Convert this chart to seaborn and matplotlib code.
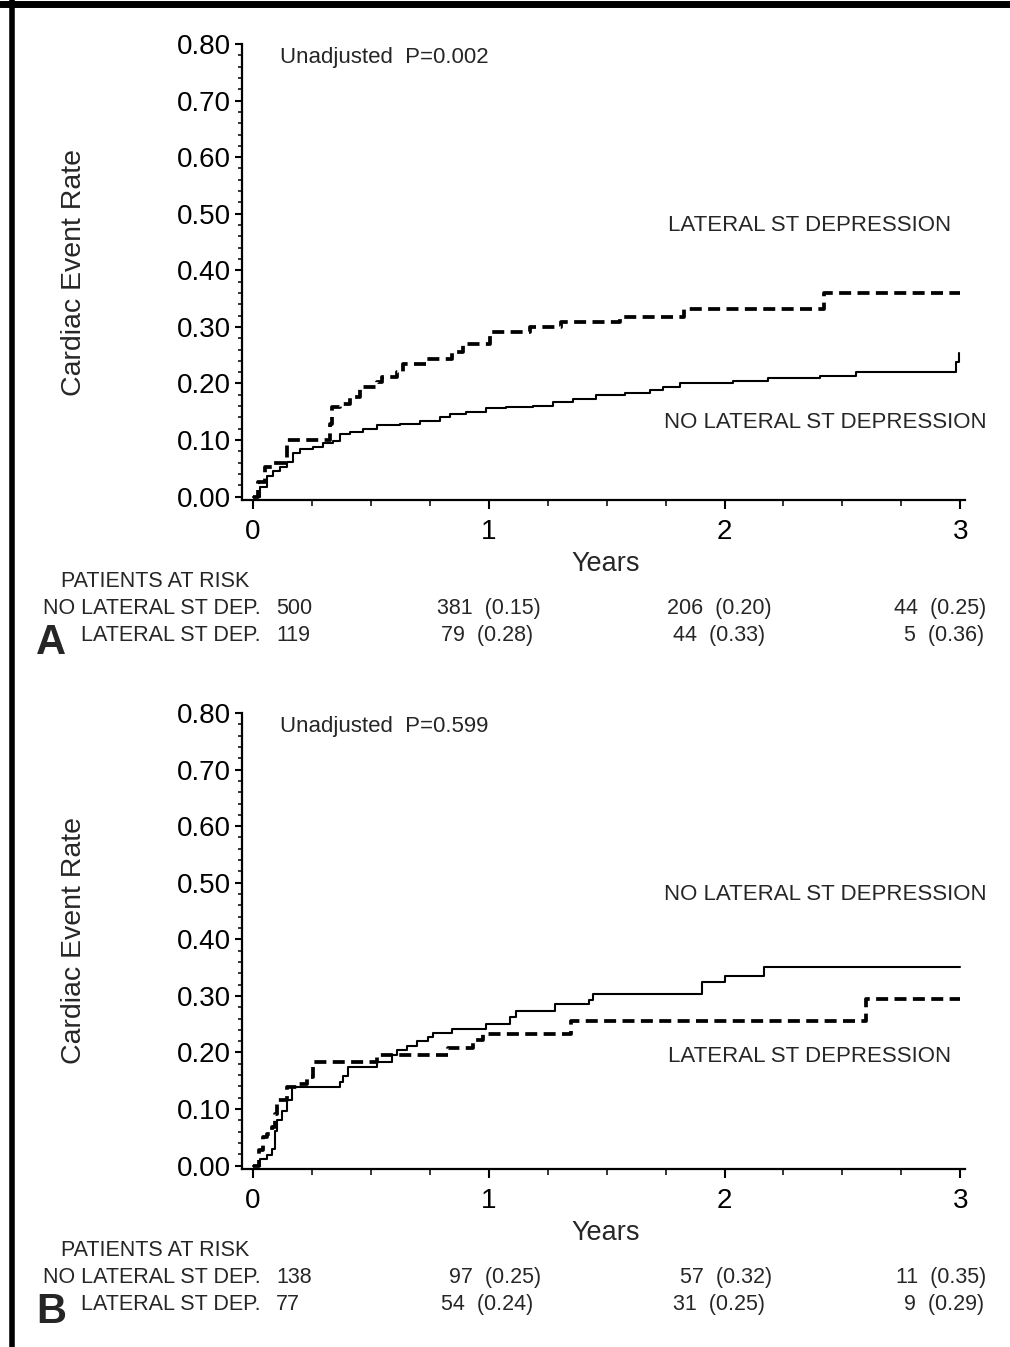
import numpy as np
import pandas as pd
import seaborn as sns
import matplotlib
matplotlib.use("Agg")
import matplotlib.pyplot as plt
from matplotlib.lines import Line2D
from matplotlib.ticker import MultipleLocator
from matplotlib.transforms import blended_transform_factory

# ---- data (Kaplan-Meier step points) ----
# Panel A
a_lat_t = [0, 0.02, 0.051, 0.086, 0.143, 0.326, 0.333, 0.369, 0.411, 0.453, 0.524, 0.545,
           0.609, 0.637, 0.736, 0.842, 0.891, 1.004, 1.174, 1.308, 1.556, 1.83, 2.42, 3.0]
a_lat_r = [0, 0.025, 0.052, 0.059, 0.100, 0.129, 0.158, 0.164, 0.176, 0.193, 0.202, 0.211,
           0.220, 0.235, 0.244, 0.255, 0.270, 0.291, 0.300, 0.308, 0.317, 0.332, 0.359, 0.359]
a_no_t = [0, 0.03, 0.058, 0.086, 0.114, 0.143, 0.171, 0.20, 0.256, 0.298, 0.34, 0.369, 0.411,
          0.467, 0.524, 0.623, 0.708, 0.792, 0.835, 0.905, 0.99, 1.075, 1.188, 1.272, 1.357,
          1.456, 1.576, 1.682, 1.739, 1.809, 2.035, 2.184, 2.403, 2.558, 2.982, 2.996]
a_no_r = [0, 0.017, 0.037, 0.046, 0.052, 0.061, 0.077, 0.084, 0.087, 0.094, 0.099, 0.111, 0.114,
          0.120, 0.127, 0.129, 0.133, 0.140, 0.146, 0.149, 0.157, 0.159, 0.161, 0.167, 0.173,
          0.180, 0.183, 0.188, 0.193, 0.200, 0.205, 0.210, 0.214, 0.220, 0.238, 0.254]

# Panel B
b_lat_t = [0, 0.023, 0.044, 0.058, 0.079, 0.093, 0.10, 0.143, 0.185, 0.227, 0.256, 0.524,
           0.828, 0.934, 0.976, 1.35, 2.60, 3.0]
b_lat_r = [0, 0.027, 0.050, 0.056, 0.068, 0.092, 0.116, 0.139, 0.145, 0.156, 0.183, 0.195,
           0.207, 0.222, 0.233, 0.255, 0.295, 0.295]
b_no_t = [0, 0.03, 0.058, 0.079, 0.093, 0.10, 0.121, 0.143, 0.164, 0.369, 0.383, 0.404, 0.524,
          0.588, 0.609, 0.651, 0.694, 0.743, 0.764, 0.842, 0.99, 1.089, 1.117, 1.279, 1.427,
          1.441, 1.905, 2.0, 2.169, 3.0]
b_no_r = [0, 0.012, 0.018, 0.030, 0.062, 0.080, 0.097, 0.116, 0.139, 0.147, 0.159, 0.174, 0.183,
          0.195, 0.205, 0.212, 0.221, 0.227, 0.234, 0.242, 0.251, 0.262, 0.273, 0.285, 0.293,
          0.303, 0.324, 0.336, 0.351, 0.351]

# patients at risk table
a_no_n0, a_lat_n0 = "500", "119"
a_no_risk = ["381  (0.15)", "206  (0.20)", "44  (0.25)"]
a_lat_risk = ["79  (0.28)", "44  (0.33)", "5  (0.36)"]
b_no_n0, b_lat_n0 = "138", "77"
b_no_risk = ["97  (0.25)", "57  (0.32)", "11  (0.35)"]
b_lat_risk = ["54  (0.24)", "31  (0.25)", "9  (0.29)"]

p_values = ["Unadjusted  P=0.002", "Unadjusted  P=0.599"]

sns.set_style("ticks")
plt.rcParams["font.family"] = ["Liberation Sans", "DejaVu Sans"]

fig = plt.figure(figsize=(10.10, 13.47), dpi=100)

W, H = 1010, 1347
ax_left, ax_right = 242, 965


def make_axes(top, bottom):
    return fig.add_axes([ax_left / W, 1 - bottom / H, (ax_right - ax_left) / W, (bottom - top) / H])


axA = make_axes(44, 500)
axB = make_axes(713, 1169)

# right edges (in years) of the at-risk columns, per row
row1_x = [1.22, 2.20, 3.11]
row2_x = [1.19, 2.17, 3.10]

panels = [
    (axA, a_no_t, a_no_r, a_lat_t, a_lat_r, p_values[0], "A",
     a_no_n0, a_lat_n0, a_no_risk, a_lat_risk,
     [("LATERAL ST DEPRESSION", 1.758, 0.48), ("NO LATERAL ST DEPRESSION", 1.742, 0.131)]),
    (axB, b_no_t, b_no_r, b_lat_t, b_lat_r, p_values[1], "B",
     b_no_n0, b_lat_n0, b_no_risk, b_lat_risk,
     [("NO LATERAL ST DEPRESSION", 1.742, 0.48), ("LATERAL ST DEPRESSION", 1.758, 0.193)]),
]

for (ax, no_t, no_r, lat_t, lat_r, ptxt, letter, n0_no, n0_lat, risk_no, risk_lat, labels) in panels:
    df_no = pd.DataFrame({"t": no_t, "r": no_r})
    df_lat = pd.DataFrame({"t": lat_t, "r": lat_r})
    sns.lineplot(data=df_no, x="t", y="r", ax=ax, color="black", linewidth=1.5,
                 drawstyle="steps-post", estimator=None, sort=False)
    sns.lineplot(data=df_lat, x="t", y="r", ax=ax, color="black", linewidth=2.7,
                 linestyle=(0, (3.2, 1.7)), drawstyle="steps-post", estimator=None, sort=False)

    ax.set_xlim(-0.047, 3.02)
    ax.set_ylim(-0.006, 0.80)
    ax.set_xticks([0, 1, 2, 3])
    ax.set_xticklabels(["0", "1", "2", "3"])
    ax.xaxis.set_minor_locator(MultipleLocator(0.25))
    ax.set_yticks(np.arange(0, 0.81, 0.1))
    ax.set_yticklabels([f"{v:.2f}" for v in np.arange(0, 0.81, 0.1)])
    ax.yaxis.set_minor_locator(MultipleLocator(0.02))
    sns.despine(ax=ax)
    for s in ["left", "bottom"]:
        ax.spines[s].set_linewidth(1.6)
        ax.spines[s].set_color("black")
    ax.tick_params(axis="y", which="major", length=5, width=1.5, labelsize=20, pad=3, colors="black")
    ax.tick_params(axis="y", which="minor", length=3, width=1.3)
    ax.tick_params(axis="x", which="major", length=6.5, width=1.5, labelsize=20, pad=7, colors="black")
    ax.tick_params(axis="x", which="minor", length=4.5, width=1.3)

    ax.set_xlabel("Years", fontsize=19.5)
    ax.xaxis.set_label_coords(0.503, -0.112)
    ax.set_ylabel("Cardiac Event Rate", fontsize=20.5)
    ax.yaxis.set_label_coords(-0.215, 0.5)

    ax.text(0.114, 0.777, ptxt, fontsize=16, ha="left", va="center")
    for txt, x, y in labels:
        ax.text(x, y, txt, fontsize=16, ha="left", va="center")

    # patients at risk table below the axis
    tr = blended_transform_factory(ax.transData, ax.transAxes)
    y_head, y_row1, y_row2 = -0.178, -0.239, -0.298
    ax.text(-0.415, y_head, "PATIENTS AT RISK", transform=tr, fontsize=15.5, ha="center", va="center")
    ax.text(0.034, y_row1, "NO LATERAL ST DEP.", transform=tr, fontsize=15.5, ha="right", va="center")
    ax.text(0.034, y_row2, "LATERAL ST DEP.", transform=tr, fontsize=15.5, ha="right", va="center")
    ax.text(0.097, y_row1, n0_no, transform=tr, fontsize=15.5, ha="left", va="center")
    ax.text(0.097, y_row2, n0_lat, transform=tr, fontsize=15.5, ha="left", va="center")
    for x1, x2, s_no, s_lat in zip(row1_x, row2_x, risk_no, risk_lat):
        ax.text(x1, y_row1, s_no, transform=tr, fontsize=15.5, ha="right", va="center")
        ax.text(x2, y_row2, s_lat, transform=tr, fontsize=15.5, ha="right", va="center")
    ax.text(-0.856, -0.314, letter, transform=tr, fontsize=30, fontweight="bold", ha="center", va="center")

# frame lines of the original figure (top and left edge)
fig.add_artist(Line2D([0, 1], [1 - 4 / H, 1 - 4 / H], transform=fig.transFigure, color="black", linewidth=5))
fig.add_artist(Line2D([12 / W, 12 / W], [0, 1], transform=fig.transFigure, color="black", linewidth=4))

fig.savefig("out.png", dpi=100)
